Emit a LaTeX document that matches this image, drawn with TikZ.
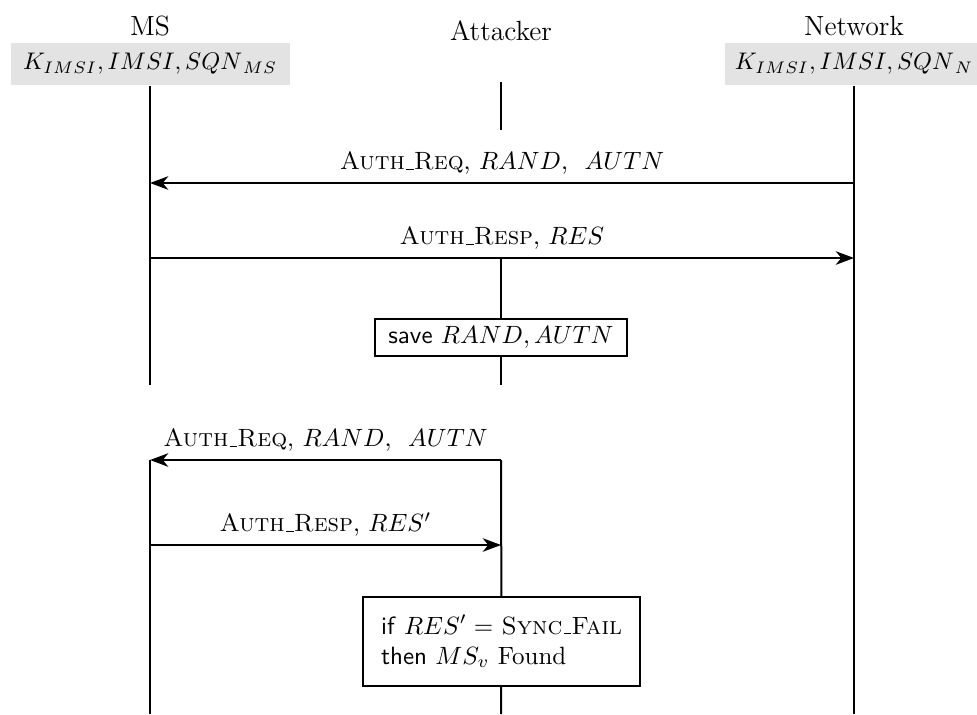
\documentclass[tikz,border=0pt]{standalone}
\usepackage{graphicx}
\usetikzlibrary{arrows.meta}
\newcommand{\pxu}{0.40}
\newcommand{\usc}{\leavevmode\kern.06em\vbox{\hrule width.3em}}
\begin{document}
\begin{tikzpicture}
[x=\pxu pt,y=-\pxu pt,
  partyname/.style={anchor=base,font=\fontsize{11.1}{13.3}\selectfont},
  lifeline/.style={-,line width=0.8pt},
  msgline/.style={line width=0.8pt,-{Stealth[length=7.3pt,width=5.4pt,inset=2.2pt]}},
  keybox/.style={fill=black!11,inner sep=0pt,minimum height={42*\pxu pt}},
  actbox/.style={draw,line width=0.8pt,inner sep=0pt,align=left},
  msglabel/.style={above,inner sep=3pt}]
\useasboundingbox (0,0) rectangle (977,714);
%% parties and their keys
\foreach \nodename/\x/\y/\partyname in {
  MS/150/35/MS, Att/501/40/Attacker, Net/854/35/Network}
{
  \node (\nodename) at (\x,\y) [partyname] {\partyname};
}
\node (MSkeys) at (150,64) [keybox,minimum width={279*\pxu pt}]
  {\scalebox{0.96}{$K_{IMSI}, IMSI, SQN_{\,MS}$}};
\node (Netkeys) at (854,64) [keybox,minimum width={259*\pxu pt}]
  {\scalebox{0.96}{$K_{IMSI}, IMSI, SQN_{\,N}$}};
%% points on the lifelines
\foreach \nodename/\x/\y in {
  ms1/150/183, ms2/150/258, msA/150/385, msB/150/460, ms4/150/545, msC/150/714,
  att0/501/82, att1/501/130, att2/501/258, att3/501/385, att4/501/460,
  att5/501/545, att6/501/714,
  net1/854/183, net2/854/258, net3/854/714}
{
  \coordinate (\nodename) at (\x,\y);
}
%% attacker actions
\node (save) at (501,337) [actbox,minimum width={252*\pxu pt},minimum height={37*\pxu pt}]
  {\textsf{save} $RAND, AUTN$};
\node (check) at (501.5,641.5) [actbox,minimum width={277*\pxu pt},minimum height={89*\pxu pt}]
  {\textsf{if} $RES' =$ \textsc{Sync\usc Fail}\\\textsf{then} $MS_v$ Found};
%% lifelines
\path
\foreach \startnode/\endnode in {MSkeys/msA, msB/msC, att0/att1, att2/save,
  save/att3, att4/check, check/att6, Netkeys/net3} {
  (\startnode) edge[lifeline] (\endnode)
};
%% messages
\draw[msgline] (net1) -- node[msglabel] {\textsc{Auth\usc Req}, $RAND$, \ $AUTN$} (ms1);
\draw[msgline] (ms2) -- node[msglabel] {\textsc{Auth\usc Resp}, $RES$} (net2);
\draw[msgline] (att4) -- node[msglabel] {\textsc{Auth\usc Req}, $RAND$, \ $AUTN$} (msB);
\draw[msgline] (ms4) -- node[msglabel] {\textsc{Auth\usc Resp}, $RES'$} (att5);
\end{tikzpicture}
\end{document}
